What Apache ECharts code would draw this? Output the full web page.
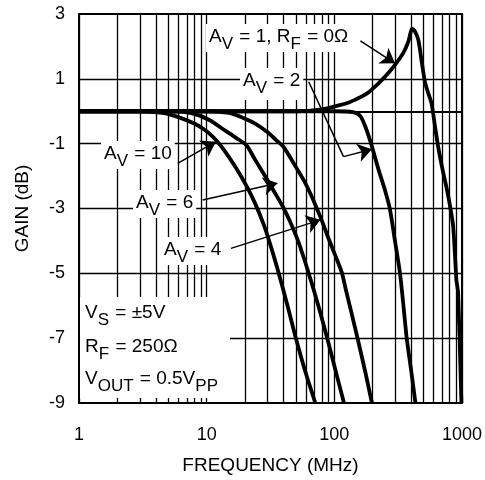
<!DOCTYPE html>
<html><head><meta charset="utf-8">
<script src="https://cdn.jsdelivr.net/npm/echarts@6/dist/echarts.min.js"></script>
<style>html,body{margin:0;padding:0;background:#fff}#c{width:485px;height:480px}</style>
</head><body><div id="c"></div>
<script>
// ---- data ----
const xTickLabels = ['1', '10', '100', '1000'];
const yTickLabels = ['3', '1', '-1', '-3', '-5', '-7', '-9'];
const xMinorGrid = [2,3,4,5,6,7,8,9,20,30,40,50,60,70,80,90,200,300,400,500,600,700,800,900];
const yGrid = [-7, -5, -3, -1, 1];

const freqAV1 = [1, 50, 80, 108, 130, 163, 185, 221, 235, 265, 299, 347, 380, 408, 430, 455, 485, 513, 545, 577, 614, 651, 700, 756, 800, 853, 904, 933, 990];
const gainAV1 = [0, 0, 0.06, 0.18, 0.27, 0.45, 0.58, 0.85, 0.96, 1.18, 1.43, 1.8, 2.15, 2.55, 2.45, 2.2, 1.5, 0.9, 0.55, 0.25, -0.45, -1.1, -1.75, -2.35, -2.85, -3.55, -5.2, -5.6, -9];

const freqAV2 = [1, 100, 140, 160, 176, 194, 222, 250, 272, 300, 327, 350, 369, 400, 432];
const gainAV2 = [0, 0, -0.03, -0.15, -0.5, -1.0, -1.8, -2.45, -3.0, -4.05, -5.0, -6.1, -7.0, -8.0, -9];

const freqAV4 = [1, 10, 15, 19, 24, 30, 35, 40, 50, 58, 66, 73, 80, 90, 103, 115, 123, 135, 153, 175, 197];
const gainAV4 = [0, 0, -0.05, -0.19, -0.38, -0.65, -0.89, -1.1, -1.72, -2.15, -2.6, -3.0, -3.38, -3.92, -4.5, -5.0, -5.5, -6.15, -7.05, -8.05, -9];

const freqAV6 = [1, 6, 8, 10.5, 14, 17, 20.5, 24, 29, 34, 39, 45, 52, 58, 63, 75, 88, 100, 119];
const gainAV6 = [0, 0, -0.08, -0.27, -0.6, -0.82, -1.05, -1.5, -2.03, -2.5, -2.9, -3.4, -4.0, -4.55, -5.0, -6.0, -7.0, -7.85, -9];

const freqAV10 = [1, 3, 4.5, 6, 8, 10, 12, 14, 17, 20.5, 24, 28, 32, 37, 43, 50, 60, 71];
const gainAV10 = [0, 0, -0.05, -0.18, -0.38, -0.62, -0.92, -1.25, -1.75, -2.3, -2.85, -3.5, -4.2, -5.05, -6.0, -7.0, -8.1, -9];

// arrows: [fromFreq, fromGain, toFreq, toGain]
const arrowAV1 = [160, 2.17, 299, 1.48];
const arrowAV2a = [63, 0.91, 118, -1.4];
const arrowAV2b = [118, -1.4, 197, -1.17];
const arrowAV10 = [5.94, -1.61, 11.8, -0.94];
const arrowAV6 = [9.3, -2.74, 35.8, -2.22];
const arrowAV4 = [15.5, -4.23, 78, -3.35];

// ---- chart ----
const FONT = '"Liberation Sans", Arial, Helvetica, sans-serif';
const zip = (f, g) => f.map((v, i) => [v, g[i]]);
const chart = echarts.init(document.getElementById('c'), null, {renderer: 'canvas'});

function curve(name, f, g) {
  return {
    name, type: 'line', data: zip(f, g), symbol: 'none', smooth: 0.25,
    lineStyle: {color: '#000', width: 3.8}, z: 10, silent: true, animation: false
  };
}
function arrowPair(a) {
  return [{coord: [a[0], a[1]]}, {coord: [a[2], a[3]]}];
}

const option = {
  animation: false,
  backgroundColor: '#fff',
  grid: {left: 79, right: 21, top: 14, bottom: 77, show: true, borderColor: '#000', borderWidth: 2, backgroundColor: 'transparent'},
  xAxis: {
    type: 'log', logBase: 10, min: 1, max: 1000,
    name: 'FREQUENCY (MHz)', nameLocation: 'middle', nameGap: 53,
    nameTextStyle: {fontFamily: FONT, fontSize: 19, color: '#000'},
    axisLine: {show: true, lineStyle: {color: '#000', width: 2}},
    axisTick: {show: false},
    axisLabel: {fontFamily: FONT, fontSize: 18, color: '#000', margin: 23,
      formatter: v => { const s = String(Math.round(v)); return xTickLabels.includes(s) ? s : ''; }},
    splitLine: {show: true, lineStyle: {color: '#000', width: 1.3}}
  },
  yAxis: {
    type: 'value', min: -9, max: 3, interval: 1,
    name: 'GAIN (dB)', nameLocation: 'middle', nameGap: 47, nameRotate: 90,
    nameTextStyle: {fontFamily: FONT, fontSize: 19, color: '#000'},
    axisLine: {show: true, lineStyle: {color: '#000', width: 2}},
    axisTick: {show: false},
    axisLabel: {fontFamily: FONT, fontSize: 18, color: '#000', margin: 14,
      formatter: v => { const s = String(v); return yTickLabels.includes(s) ? s : ''; }},
    splitLine: {show: false}
  },
  series: [
    {
      name: 'grid', type: 'line', data: [], z: 1, silent: true, animation: false,
      markLine: {
        z: 1, silent: true, animation: false, symbol: ['none', 'none'], label: {show: false},
        lineStyle: {color: '#000', width: 1.3, type: 'solid'},
        data: xMinorGrid.map(v => ({xAxis: v})).concat(yGrid.map(v => ({yAxis: v})))
      }
    },
    curve('AV1', freqAV1, gainAV1),
    curve('AV2', freqAV2, gainAV2),
    curve('AV4', freqAV4, gainAV4),
    curve('AV6', freqAV6, gainAV6),
    curve('AV10', freqAV10, gainAV10),
    {
      name: 'arrows', type: 'line', data: [], z: 12, silent: true, animation: false,
      markLine: {
        z: 12, silent: true, animation: false, symbol: ['none', 'none'], label: {show: false},
        lineStyle: {color: '#000', width: 1.5, type: 'solid'},
        data: [arrowPair(arrowAV2a)]
      }
    },
    {
      name: 'arrowheads', type: 'line', data: [], z: 12, silent: true, animation: false,
      markLine: {
        z: 12, silent: true, animation: false, symbol: ['none', 'arrow'], symbolSize: 14, label: {show: false},
        lineStyle: {color: '#000', width: 1.5, type: 'solid'},
        itemStyle: {color: '#000'},
        data: [arrowPair(arrowAV1), arrowPair(arrowAV2b), arrowPair(arrowAV10), arrowPair(arrowAV6), arrowPair(arrowAV4)]
      }
    }
  ]
};
chart.setOption(option);

const rich = {
  a: {fontFamily: FONT, fontSize: 19, lineHeight: 19, verticalAlign: 'top', fill: '#000'},
  s: {fontFamily: FONT, fontSize: 17, lineHeight: 17, padding: [9, 1, 0, 0], verticalAlign: 'top', fill: '#000'}
};
function label(x, y, text, pad) {
  return {
    type: 'text', x, y, z: 8, silent: true,
    style: {text, rich, fill: '#000', backgroundColor: '#fff', padding: pad || [3, 3, 3, 3], fontFamily: FONT, fontSize: 19}
  };
}
chart.setOption({
  graphic: [
    label(206, 24, '{a|A}{s|V}{a| = 1, R}{s|F}{a| = 0Ω}', [3, 3, 6, 3]),
    label(240, 68, '{a|A}{s|V}{a| = 2}', [3, 3, 10, 3]),
    label(101, 141, '{a|A}{s|V}{a| = 10}', [3, 3, 6, 3]),
    label(133, 190, '{a|A}{s|V}{a| = 6}', [3, 3, 6, 3]),
    label(161, 237, '{a|A}{s|V}{a| = 4}', [3, 3, 6, 3]),
    {
      type: 'rect', z: 7, silent: true,
      shape: {x: 80, y: 297, width: 150, height: 101},
      style: {fill: '#fff'}
    },
    label(85, 303, '{a|V}{s|S}{a| = ±5V}', [0, 0, 0, 0]),
    label(85, 337, '{a|R}{s|F}{a| = 250Ω}', [0, 0, 0, 0]),
    label(85, 369, '{a|V}{s|OUT}{a| = 0.5V}{s|PP}', [0, 0, 0, 0])
  ]
});
</script>
</body></html>
